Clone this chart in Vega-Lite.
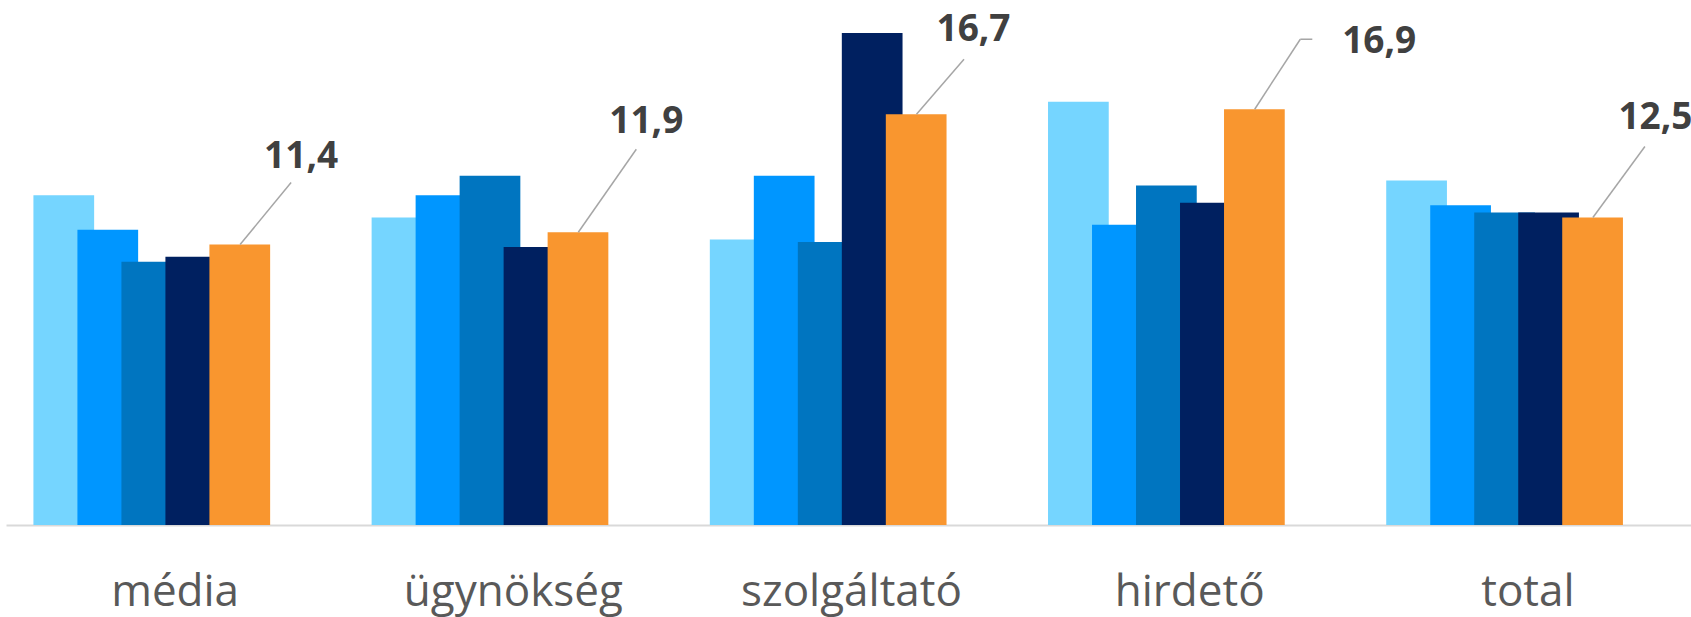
{
  "$schema": "https://vega.github.io/schema/vega-lite/v6.json",
  "width": 1691,
  "height": 525,
  "autosize": {"type": "none"},
  "padding": {"left": 0, "top": 0, "right": 0, "bottom": 92},
  "background": "white",
  "config": {"view": {"stroke": null}, "font": "Open Sans"},
  "data": {
    "values": [
      {"cat": "média", "series": "s1", "value": 13.4},
      {"cat": "média", "series": "s2", "value": 12.0},
      {"cat": "média", "series": "s3", "value": 10.7},
      {"cat": "média", "series": "s4", "value": 10.9},
      {"cat": "média", "series": "s5", "value": 11.4, "label": "11,4"},
      {"cat": "ügynökség", "series": "s1", "value": 12.5},
      {"cat": "ügynökség", "series": "s2", "value": 13.4},
      {"cat": "ügynökség", "series": "s3", "value": 14.2},
      {"cat": "ügynökség", "series": "s4", "value": 11.3},
      {"cat": "ügynökség", "series": "s5", "value": 11.9, "label": "11,9"},
      {"cat": "szolgáltató", "series": "s1", "value": 11.6},
      {"cat": "szolgáltató", "series": "s2", "value": 14.2},
      {"cat": "szolgáltató", "series": "s3", "value": 11.5},
      {"cat": "szolgáltató", "series": "s4", "value": 20.0},
      {"cat": "szolgáltató", "series": "s5", "value": 16.7, "label": "16,7"},
      {"cat": "hirdető", "series": "s1", "value": 17.2},
      {"cat": "hirdető", "series": "s2", "value": 12.2},
      {"cat": "hirdető", "series": "s3", "value": 13.8},
      {"cat": "hirdető", "series": "s4", "value": 13.1},
      {"cat": "hirdető", "series": "s5", "value": 16.9, "label": "16,9"},
      {"cat": "total", "series": "s1", "value": 14.0},
      {"cat": "total", "series": "s2", "value": 13.0},
      {"cat": "total", "series": "s3", "value": 12.7},
      {"cat": "total", "series": "s4", "value": 12.7},
      {"cat": "total", "series": "s5", "value": 12.5, "label": "12,5"}
    ]
  },
  "encoding": {
    "x": {
      "field": "cat", "type": "nominal", "sort": null,
      "scale": {"range": [6, 1697], "paddingInner": 0.0893, "paddingOuter": 0.04465},
      "axis": {"title": null, "ticks": false, "grid": false, "domainColor": "#D9D9D9", "domainWidth": 2,
               "labelFontSize": 44, "labelColor": "#595959", "labelFont": "Open Sans", "labelPadding": 80,
               "labelBaseline": "alphabetic", "labelAngle": 0, "labelLimit": 0}
    },
    "y": {"field": "value", "type": "quantitative", "scale": {"domain": [0, 21.34], "nice": false}, "axis": null}
  },
  "layer": [
    {
      "mark": {"type": "bar", "width": {"band": 1.38}},
      "encoding": {
        "xOffset": {"field": "series", "type": "nominal", "sort": null,
                    "scale": {"paddingInner": 0, "paddingOuter": 1, "align": 0.805}},
        "color": {"field": "series", "type": "nominal", "sort": null,
                  "scale": {"domain": ["s1", "s2", "s3", "s4", "s5"],
                            "range": ["#75D5FF", "#0096FF", "#0075C0", "#002060", "#F9962F"]},
                  "legend": null}
      }
    },
    {
      "transform": [{"filter": "datum.series === 's5' && datum.cat === 'média'"}],
      "layer": [
        {"mark": {"type": "rule", "xOffset": 65, "x2Offset": 116, "y2Offset": -62, "color": "#A6A6A6", "strokeWidth": 1.5},
         "encoding": {"x2": {"field": "cat"}, "y2": {"field": "value"}}},
        {"mark": {"type": "text", "dx": 126, "dy": -77, "baseline": "alphabetic", "align": "center", "fontSize": 37, "fontWeight": "bold", "color": "#404040", "font": "Open Sans"},
         "encoding": {"text": {"field": "label"}}}
      ]
    },
    {
      "transform": [{"filter": "datum.series === 's5' && datum.cat === 'ügynökség'"}],
      "layer": [
        {"mark": {"type": "rule", "xOffset": 65, "x2Offset": 123, "y2Offset": -83, "color": "#A6A6A6", "strokeWidth": 1.5},
         "encoding": {"x2": {"field": "cat"}, "y2": {"field": "value"}}},
        {"mark": {"type": "text", "dx": 133, "dy": -99, "baseline": "alphabetic", "align": "center", "fontSize": 37, "fontWeight": "bold", "color": "#404040", "font": "Open Sans"},
         "encoding": {"text": {"field": "label"}}}
      ]
    },
    {
      "transform": [{"filter": "datum.series === 's5' && datum.cat === 'szolgáltató'"}],
      "layer": [
        {"mark": {"type": "rule", "xOffset": 65, "x2Offset": 112.5, "y2Offset": -55, "color": "#A6A6A6", "strokeWidth": 1.5},
         "encoding": {"x2": {"field": "cat"}, "y2": {"field": "value"}}},
        {"mark": {"type": "text", "dx": 122, "dy": -73, "baseline": "alphabetic", "align": "center", "fontSize": 37, "fontWeight": "bold", "color": "#404040", "font": "Open Sans"},
         "encoding": {"text": {"field": "label"}}}
      ]
    },
    {
      "transform": [{"filter": "datum.series === 's5' && datum.cat === 'hirdető'"}],
      "layer": [
        {"mark": {"type": "rule", "xOffset": 65, "x2Offset": 110.6, "y2Offset": -70, "color": "#A6A6A6", "strokeWidth": 1.5},
         "encoding": {"x2": {"field": "cat"}, "y2": {"field": "value"}}},
        {"mark": {"type": "rule", "xOffset": 110.6, "yOffset": -70, "x2Offset": 122.6, "y2Offset": -70, "color": "#A6A6A6", "strokeWidth": 1.5},
         "encoding": {"x2": {"field": "cat"}, "y2": {"field": "value"}}},
        {"mark": {"type": "text", "dx": 189.5, "dy": -56, "baseline": "alphabetic", "align": "center", "fontSize": 37, "fontWeight": "bold", "color": "#404040", "font": "Open Sans"},
         "encoding": {"text": {"field": "label"}}}
      ]
    },
    {
      "transform": [{"filter": "datum.series === 's5' && datum.cat === 'total'"}],
      "layer": [
        {"mark": {"type": "rule", "xOffset": 65, "x2Offset": 117, "y2Offset": -71, "color": "#A6A6A6", "strokeWidth": 1.5},
         "encoding": {"x2": {"field": "cat"}, "y2": {"field": "value"}}},
        {"mark": {"type": "text", "dx": 127.5, "dy": -88, "baseline": "alphabetic", "align": "center", "fontSize": 37, "fontWeight": "bold", "color": "#404040", "font": "Open Sans"},
         "encoding": {"text": {"field": "label"}}}
      ]
    }
  ]
}
